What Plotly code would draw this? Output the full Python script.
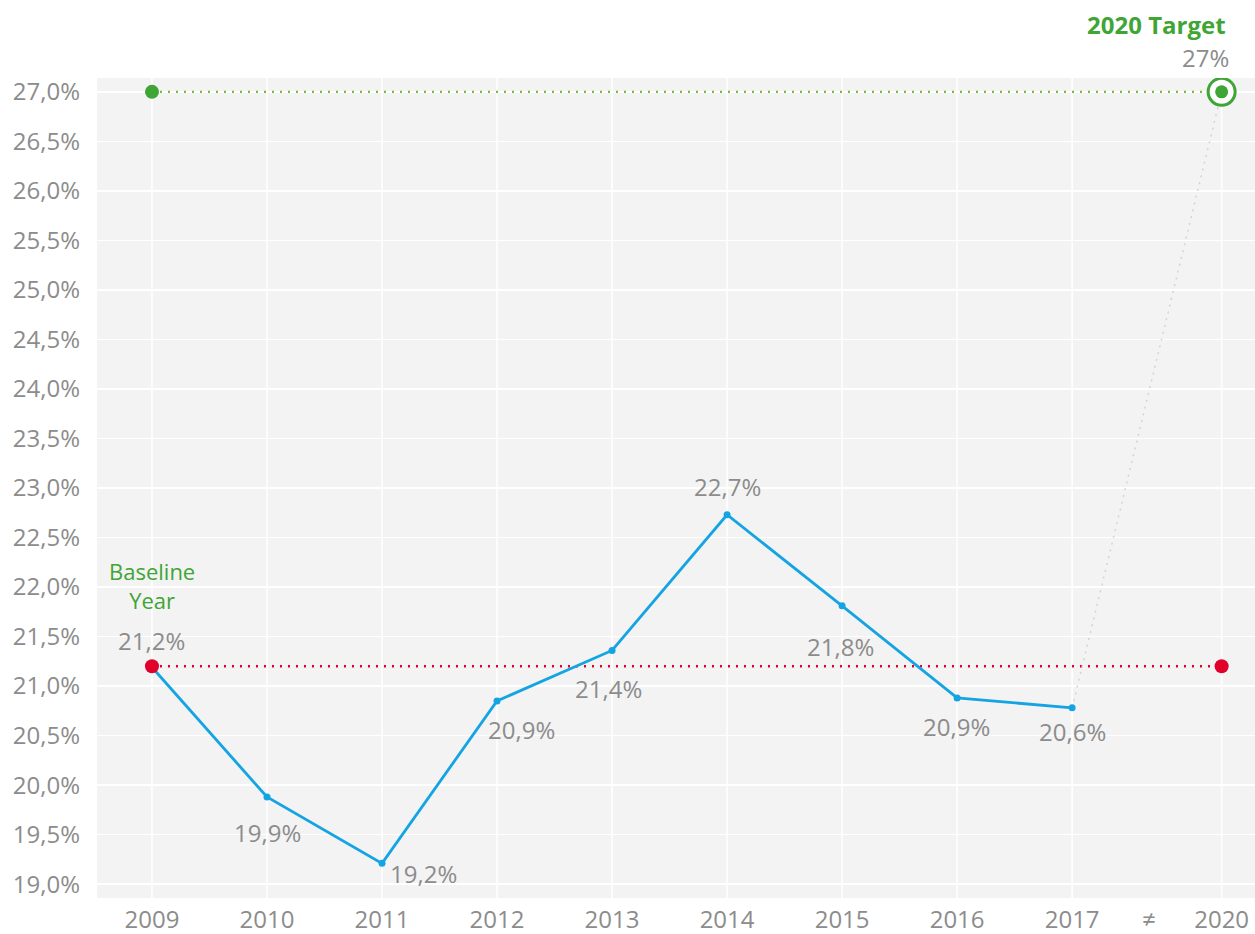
import plotly.graph_objects as go

# ---- data ----
years = ["2009", "2010", "2011", "2012", "2013", "2014", "2015", "2016", "2017"]
shares = [21.19, 19.88, 19.21, 20.85, 21.36, 22.73, 21.81, 20.88, 20.78]
share_labels = ["21,2%", "19,9%", "19,2%", "20,9%", "21,4%", "22,7%", "21,8%", "20,9%", "20,6%"]
target_year = "2020"
break_label = "≠"
baseline_value = 21.2
target_value = 27.0
target_label = "27%"
y_ticks = [19.0, 19.5, 20.0, 20.5, 21.0, 21.5, 22.0, 22.5, 23.0, 23.5, 24.0, 24.5, 25.0, 25.5, 26.0, 26.5, 27.0]

# ---- layout helpers ----
xpos = list(range(len(years)))
x_target = len(years) - 1 + 1.3
x_break = len(years) - 1 + 0.67

GREY = "#8c8c8c"
BLUE = "#14a4e3"
RED = "#e0002a"
GREEN = "#3fa535"
LGREEN = "#6cbf2f"
FONT = "Open Sans"
FS = 24

fig = go.Figure()

# target dotted line at 27
fig.add_trace(go.Scatter(x=[xpos[0], x_target], y=[target_value, target_value], mode="lines",
                         line=dict(color=LGREEN, width=2.3, dash="2px,6px"), hoverinfo="skip"))
# baseline dotted line
fig.add_trace(go.Scatter(x=[xpos[0], x_target], y=[baseline_value, baseline_value], mode="lines",
                         line=dict(color=RED, width=2.3, dash="2px,6px"), hoverinfo="skip"))
# grey dotted projection
fig.add_trace(go.Scatter(x=[xpos[-1], x_target], y=[shares[-1], target_value], mode="lines",
                         line=dict(color="#d4d4d4", width=1.5, dash="2px,5px"), hoverinfo="skip"))
# main series
fig.add_trace(go.Scatter(x=xpos, y=shares, mode="lines+markers",
                         line=dict(color=BLUE, width=2.8),
                         marker=dict(color=BLUE, size=7), hoverinfo="skip"))
# baseline dots
fig.add_trace(go.Scatter(x=[xpos[0], x_target], y=[baseline_value, baseline_value], mode="markers",
                         marker=dict(color=RED, size=14), hoverinfo="skip"))
# green dot at 2009 level 27
fig.add_trace(go.Scatter(x=[xpos[0]], y=[target_value], mode="markers",
                         marker=dict(color=GREEN, size=14), hoverinfo="skip"))
# target ring
fig.add_trace(go.Scatter(x=[x_target], y=[target_value], mode="markers",
                         marker=dict(color="white", size=27, line=dict(color=GREEN, width=3)),
                         hoverinfo="skip"))
fig.add_trace(go.Scatter(x=[x_target], y=[target_value], mode="markers",
                         marker=dict(color=GREEN, size=13), hoverinfo="skip"))

# data labels: (xshift, yshift) offsets
offsets = [(0, 27), (0, -36), (41, -10), (24, -29), (-4, -38), (0, 28), (-2, -41), (-1, -29), (0, -24)]
for i, (lab, (dx, dy)) in enumerate(zip(share_labels, offsets)):
    fig.add_annotation(x=xpos[i], y=shares[i], text=lab, showarrow=False,
                       xshift=dx, yshift=dy, font=dict(family=FONT, size=FS, color=GREY))

fig.add_annotation(x=xpos[0], y=baseline_value, text="Baseline<br>Year", showarrow=False,
                   xshift=0, yshift=81, font=dict(family=FONT, size=22, color=GREEN))
fig.add_annotation(x=x_target, y=target_value, text=target_label, showarrow=False,
                   xshift=-16, yshift=34, font=dict(family=FONT, size=FS, color=GREY))
fig.add_annotation(x=x_target, y=target_value, text="<b>2020 Target</b>", showarrow=False,
                   xshift=-65, yshift=67, font=dict(family=FONT, size=24, color=GREEN))

# vertical gridlines at real years only (not at the axis-break mark)
for xv in xpos + [x_target]:
    fig.add_shape(type="line", x0=xv, x1=xv, y0=0, y1=1, yref="paper",
                  line=dict(color="white", width=1.5), layer="below")

fig.update_layout(
    width=1255, height=934,
    margin=dict(l=97, r=0, t=78, b=36),
    paper_bgcolor="white", plot_bgcolor="#f3f3f3",
    showlegend=False,
    hovermode=False,
    font=dict(family=FONT, color=GREY),
    xaxis=dict(range=[-0.478, 9.59], tickvals=xpos + [x_break, x_target],
               ticktext=years + [break_label, target_year],
               showgrid=False, zeroline=False, showline=False, ticks="", ticklabelstandoff=5,
               tickfont=dict(family=FONT, size=FS, color=GREY)),
    yaxis=dict(range=[18.86, 27.14], tickvals=y_ticks,
               ticktext=[f"{v:.1f}".replace(".", ",") + "%" for v in y_ticks],
               showgrid=True, gridcolor="white", gridwidth=1.5, zeroline=False, showline=False,
               ticks="", ticklabelstandoff=16, tickfont=dict(family=FONT, size=FS, color=GREY)),
)

fig.write_html("out.html", config={"displayModeBar": False, "staticPlot": True})

# remove the default body margin so the figure fills the window exactly
with open("out.html", "r", encoding="utf-8") as f:
    html = f.read()
html = html.replace("<body>", '<body style="margin:0;overflow:hidden">', 1)
with open("out.html", "w", encoding="utf-8") as f:
    f.write(html)
